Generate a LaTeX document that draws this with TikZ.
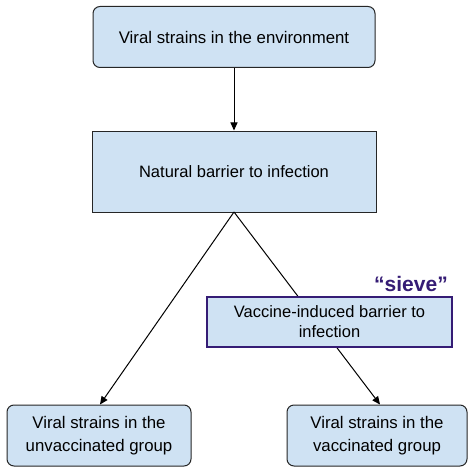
\documentclass[tikz,border=0pt]{standalone}
\usepackage{fontspec}
\setmainfont{Liberation Sans}
\usetikzlibrary{arrows.meta}

\definecolor{boxblue}{HTML}{CFE2F3}
\definecolor{sievepurple}{HTML}{351C75}

\tikzset{
  roundbox/.style={draw=black!85, fill=boxblue, rounded corners=7pt, line width=1pt, align=center, font=\fontsize{16.8}{23}\selectfont},
  flatbox/.style={draw=black!85, fill=boxblue, line width=1pt, align=center, font=\fontsize{16.5}{20}\selectfont},
  link/.style={-{Triangle[length=8pt,width=7pt]}, line width=1pt}
}

\begin{document}
\begin{tikzpicture}[x=1pt,y=-1pt]
        % Fix the size of the page
        \useasboundingbox (0,0) rectangle (468,468);

        % Draw the lines behind the boxes
        \coordinate (split) at (234,212);
        \coordinate (lefttip) at (100,405);
        \coordinate (righttip) at (380,405);

        % Boxes at the top
        \node[roundbox, minimum width=282pt, minimum height=61pt] (env) at (234,37) {Viral strains in the environment};
        \node[flatbox, minimum width=284pt, minimum height=81pt] (natural) at (234,171.5) {Natural barrier to infection};

        % Boxes at the bottom
        \node[roundbox, minimum width=184pt, minimum height=61pt] (unvac) at (99,435.5) {Viral strains in the\\unvaccinated group};
        \node[roundbox, minimum width=180pt, minimum height=61pt] (vac) at (377,435.5) {Viral strains in the\\vaccinated group};

        % Arrows
        \draw[link] (env) -- (natural);
        \draw[link] (split) -- (unvac.north -| lefttip);
        \draw[link] (split) -- (vac.north -| righttip);

        % The sieve box covers the right line
        \node[flatbox, draw=sievepurple, line width=1.4pt, minimum width=245pt, minimum height=50pt] (vaccine) at (329.5,322) {Vaccine-induced barrier to\\infection};
        \node[text=sievepurple, font=\fontsize{21}{24}\selectfont\bfseries] (sieve) at (411,284) {``sieve''};
\end{tikzpicture}
\end{document}
